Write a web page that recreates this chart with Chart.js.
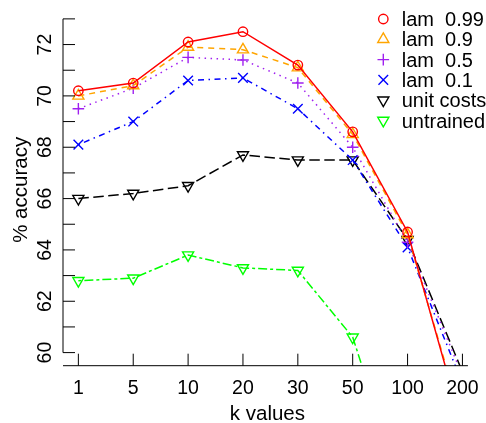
<!DOCTYPE html>
<html>
<head>
<meta charset="utf-8">
<script src="https://cdn.jsdelivr.net/npm/chart.js@4"></script>
<style>
html, body { margin: 0; padding: 0; background: #fff; }
#wrap { width: 486px; height: 423px; }
</style>
</head>
<body>
<div id="wrap"><canvas id="chart" width="486" height="423"></canvas></div>
<script>
// values
const kValues = ['1', '5', '10', '20', '30', '50', '100', '200'];
const lam099 = [70.2, 70.5, 72.1, 72.5, 71.2, 68.6, 64.7, 57.1];
const lam09 = [70.0, 70.4, 71.9, 71.8, 71.1, 68.5, 64.6, 57.3];
const lam05 = [69.5, 70.3, 71.5, 71.4, 70.5, 68.0, 64.3, 59.1];
const lam01 = [68.1, 69.0, 70.6, 70.7, 69.5, 67.5, 64.1, 58.8];
const unitCosts = [66.0, 66.2, 66.5, 67.7, 67.5, 67.5, 64.4, 59.25];
const untrained = [62.8, 62.9, 63.8, 63.3, 63.2, 60.6, 54.0, null];
const yTicks = [60, 61, 62, 63, 64, 65, 66, 67, 68, 69, 70, 71, 72, 73];
const yTickLabels = ['60', '', '62', '', '64', '', '66', '', '68', '', '70', '', '72', ''];

const FONT = "'Liberation Sans', Arial, sans-serif";

function toPoints(values) {
    return values.map((v, i) => ({ x: i + 1, y: v }));
}

function series(label, values, color, style, radius, rotation, dash) {
    return {
        label: label,
        data: toPoints(values),
        borderColor: color,
        borderWidth: 1.5,
        borderDash: dash,
        backgroundColor: 'transparent',
        pointStyle: style,
        pointRadius: radius,
        pointRotation: rotation,
        pointBorderColor: color,
        pointBackgroundColor: 'transparent',
        pointBorderWidth: 1.4,
        tension: 0,
        fill: false,
        clip: 0
    };
}

const datasets = [
    series('lam  0.99', lam099, '#ff0000', 'circle', 4.7, 0, []),
    series('lam  0.9', lam09, '#ffa500', 'triangle', 6.4, 0, [6, 5]),
    series('lam  0.5', lam05, '#a020f0', 'cross', 5.8, 0, [1.5, 4.5]),
    series('lam  0.1', lam01, '#0000ff', 'crossRot', 6.8, 0, [1.5, 4.5, 6, 4.5]),
    series('unit costs', unitCosts, '#000000', 'triangle', 6.4, 180, [10.5, 4.5]),
    series('untrained', untrained, '#00ff00', 'triangle', 6.4, 180, [3, 3, 9, 3])
];

// R-style axes, labels and legend
const rAxes = {
    id: 'rAxes',
    afterDraw(chart) {
        const ctx = chart.ctx;
        const xs = chart.scales.x;
        const ys = chart.scales.y;
        const area = chart.chartArea;
        ctx.save();
        ctx.strokeStyle = '#000';
        ctx.lineWidth = 1;
        ctx.setLineDash([]);

        // y axis
        const yTop = ys.getPixelForValue(yTicks[yTicks.length - 1]);
        const yBot = ys.getPixelForValue(yTicks[0]);
        ctx.beginPath();
        ctx.moveTo(area.left, yTop);
        ctx.lineTo(area.left, yBot);
        yTicks.forEach(t => {
            const py = ys.getPixelForValue(t);
            ctx.moveTo(area.left, py);
            ctx.lineTo(area.left + 12, py);
        });
        // x axis
        ctx.moveTo(area.left, area.bottom);
        ctx.lineTo(xs.getPixelForValue(8.1), area.bottom);
        kValues.forEach((k, i) => {
            const px = xs.getPixelForValue(i + 1);
            ctx.moveTo(px, area.bottom);
            ctx.lineTo(px, area.bottom - 12);
        });
        ctx.stroke();

        ctx.fillStyle = '#000';
        ctx.font = '19.5px ' + FONT;
        ctx.textAlign = 'center';
        ctx.textBaseline = 'alphabetic';
        kValues.forEach((k, i) => {
            ctx.fillText(k, xs.getPixelForValue(i + 1), 393.5);
        });
        yTicks.forEach((t, i) => {
            if (!yTickLabels[i]) return;
            ctx.save();
            ctx.translate(50.7, ys.getPixelForValue(t));
            ctx.rotate(-Math.PI / 2);
            ctx.fillText(yTickLabels[i], 0, 0);
            ctx.restore();
        });

        ctx.font = '20.5px ' + FONT;
        ctx.fillText('k values', (area.left + area.right) / 2 - 3, 420);
        ctx.save();
        ctx.translate(27, (area.top + area.bottom) / 2);
        ctx.rotate(-Math.PI / 2);
        ctx.fillText('% accuracy', 0, 0);
        ctx.restore();

        // legend
        ctx.font = '20px ' + FONT;
        ctx.textAlign = 'left';
        chart.data.datasets.forEach((ds, i) => {
            const cy = 19 + i * 20.3;
            ctx.strokeStyle = ds.pointBorderColor;
            ctx.fillStyle = 'rgba(0,0,0,0)';
            ctx.lineWidth = ds.pointBorderWidth;
            Chart.helpers.drawPoint(ctx, {
                pointStyle: ds.pointStyle,
                rotation: ds.pointRotation,
                radius: ds.pointRadius,
                borderWidth: ds.pointBorderWidth
            }, 383.3, cy);
            ctx.fillStyle = '#000';
            ctx.fillText(ds.label, 401.7, cy + 7);
        });
        ctx.restore();
    }
};

new Chart(document.getElementById('chart').getContext('2d'), {
    type: 'line',
    data: { datasets: datasets },
    options: {
        responsive: false,
        animation: false,
        layout: { padding: { left: 63, right: 3, top: 14, bottom: 57.3 } },
        plugins: {
            legend: { display: false },
            tooltip: { enabled: false }
        },
        scales: {
            x: { type: 'linear', min: 0.72, max: 8.28, display: false },
            y: { type: 'linear', min: 59.49, max: 73.19, display: false }
        }
    },
    plugins: [rAxes]
});
</script>
</body>
</html>
